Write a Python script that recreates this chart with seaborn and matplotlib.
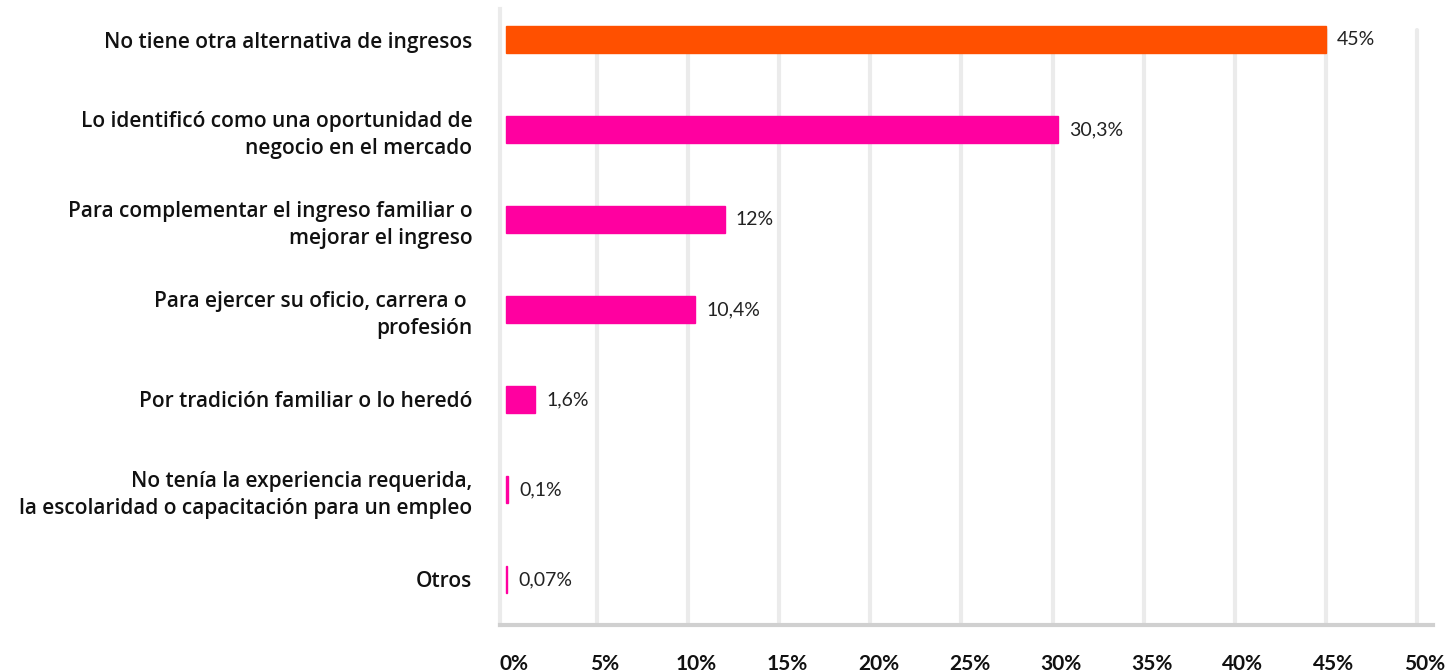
import pandas as pd
import seaborn as sns
from matplotlib import pyplot as plt
from matplotlib import transforms


categorias = [
    'No tiene otra alternativa de ingresos',
    'Lo identificó como una oportunidad de\nnegocio en el mercado',
    'Para complementar el ingreso familiar o\nmejorar el ingreso',
    'Para ejercer su oficio, carrera o \nprofesión',
    'Por tradición familiar o lo heredó',
    'No tenía la experiencia requerida,\nla escolaridad o capacitación para un empleo',
    'Otros',
]
valores = [45, 30.3, 12, 10.4, 1.6, 0.1, 0.07]
colores = ['#FF5000', '#FF00A0', '#FF00A0', '#FF00A0', '#FF00A0', '#FF00A0', '#FF00A0']
ticks = [0, 5, 10, 15, 20, 25, 30, 35, 40, 45, 50]
tick_labels = [f'{t}%' for t in ticks]

sns.set_style('white')
plt.rcParams['font.family'] = ['Lato', 'DejaVu Sans']

df = pd.DataFrame({'categoria': categorias, 'valor': valores})

fig = plt.figure(figsize=(14.53, 6.72), dpi=100)
ax = fig.add_axes([500 / 1453, 47 / 672, (1433 - 500) / 1453, (625 - 9) / 672])

sns.barplot(data=df, x='valor', y='categoria', hue='categoria', palette=colores,
            saturation=1, legend=False, width=0.3, orient='h', ax=ax, zorder=3)
# keep the tiny bars visible, as in the original
for p, c in zip(ax.patches, colores):
    p.set_edgecolor(c)
    p.set_linewidth(1)

ax.set_xlim(-0.33, 50.88)
ax.set_ylim(6.506, -0.339)

# grid lines (they start a little below the top of the axes)
for t in ticks[1:]:
    ax.axvline(t, ymin=0.005, ymax=0.966, color='#EBEBEB', lw=3, zorder=0)

for s in ['top', 'right']:
    ax.spines[s].set_visible(False)
ax.spines['left'].set_color('#EBEBEB')
ax.spines['left'].set_linewidth(3)
ax.spines['bottom'].set_color('#D0D0D0')
ax.spines['bottom'].set_linewidth(3)

ax.set_xticks(ticks)
ax.set_xticklabels(tick_labels, fontsize=15, fontweight='bold', color='#111111')
ax.tick_params(axis='x', length=0, pad=21)
offset = transforms.ScaledTranslation(8 / 100, 0, fig.dpi_scale_trans)
for lab in ax.get_xticklabels():
    lab.set_transform(lab.get_transform() + offset)

ax.tick_params(axis='y', length=0, pad=20)
for lab in ax.get_yticklabels():
    lab.set_family(['Open Sans', 'DejaVu Sans'])
    lab.set_fontsize(15)
    lab.set_fontweight('semibold')
    lab.set_linespacing(1.4)
    lab.set_color('#111111')

ax.set_xlabel('')
ax.set_ylabel('')

for i, v in enumerate(valores):
    txt = f'{v:g}'.replace('.', ',') + '%'
    ax.annotate(txt, xy=(v, i), xytext=(8, 0), textcoords='offset points',
                va='center', ha='left', fontsize=14, color='#222222')

plt.savefig('out.png', dpi=100)
plt.close()
